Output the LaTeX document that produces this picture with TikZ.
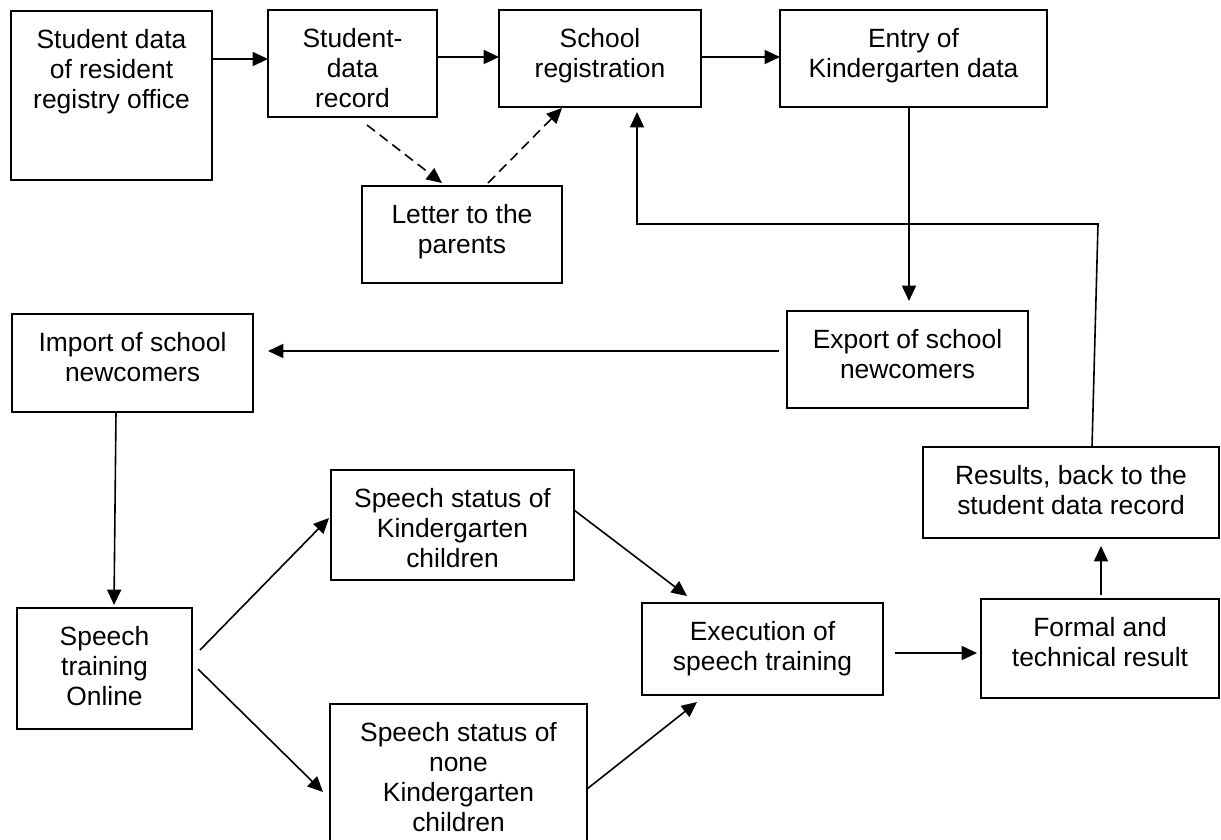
\documentclass[tikz,border=0pt]{standalone}
\usepackage{fontspec}
\setmainfont{Liberation Sans}
\usetikzlibrary{arrows.meta,calc}
\newlength\px
\setlength\px{0.75pt}
\newcommand\bxt[3]{\parbox[t][#2\px][t]{#1\px}{\centering\rule{0pt}{37\px}#3}}
\begin{document}
\begin{tikzpicture}[x=0.75pt,y=-0.75pt,
  box/.style={draw, line width=1.4pt, inner sep=0pt, outer sep=0pt, anchor=north west,
    font=\fontsize{19.8pt}{22.5pt}\selectfont},
  arr/.style={line width=1.2pt, -{Triangle[length=11.5pt,width=10.5pt]}},
  dsh/.style={arr, dash pattern=on 7.5pt off 4.5pt}]
\useasboundingbox (0,0) rectangle (1221,839);
\clip (0,0) rectangle (1221,839);
\fill[white] (0,0) rectangle (1221,839);
% boxes
\node[box] (reg) at (11,11) {\bxt{201}{169}{Student data\\of resident\\registry office}};
\node[box] (rec) at (268,10) {\bxt{169}{107}{Student-\\data\\record}};
\node[box] (sch) at (499,10) {\bxt{202}{97}{School\\registration}};
\node[box] (ent) at (780,10) {\bxt{267}{97}{Entry of\\Kindergarten data}};
\node[box] (let) at (362,186) {\bxt{200}{97}{Letter to the\\parents}};
\node[box] (imp) at (12,314) {\bxt{241}{98}{Import of school\\newcomers}};
\node[box] (exp) at (787,311) {\bxt{241}{97}{Export of school\\newcomers}};
\node[box] (res) at (923,447) {\bxt{296}{91}{Results, back to the\\student data record}};
\node[box] (spk) at (331,470) {\bxt{243}{110}{Speech status of\\Kindergarten\\children}};
\node[box] (trn) at (17,608) {\bxt{175}{121}{Speech\\training\\Online}};
\node[box] (exe) at (642,603) {\bxt{241}{92}{Execution of\\speech training}};
\node[box] (frm) at (981,599) {\bxt{238}{99}{Formal and\\technical result}};
\node[box] (non) at (330,704) {\bxt{257}{160}{Speech status of\\none\\Kindergarten\\children}};
% connectors
\draw[arr] (reg.east |- 0,59) -- (rec.west |- 0,59);
\draw[arr] (rec.east |- 0,57) -- (sch.west |- 0,57);
\draw[arr] (sch.east |- 0,57) -- (ent.west |- 0,57);
\draw[dsh] ($(rec.south west)+(99,8)$) -- ($(let.north west)+(80,-3)$);
\draw[dsh] ($(let.north west)+(126,-3)$) -- ($(sch.south west)+(63,1)$);
\coordinate (fb1) at (1098,224);
\coordinate (fb2) at (637,224);
\draw[arr] ($(res.north west)+(169,0)$) -- (fb1) -- (fb2) -- ($(sch.south west)+(138,5)$);
\draw[arr] ($(ent.south west)+(129,0)$) -- ($(exp.north west)+(122,-10)$);
\draw[arr] ($(exp.north west)+(-8,40)$) -- ($(imp.north east)+(15,37)$);
\draw[arr] ($(imp.south west)+(104,0)$) -- ($(trn.north west)+(97,-3)$);
\draw[arr] ($(trn.north east)+(8,42)$) -- ($(spk.north west)+(-2,48)$);
\draw[arr] ($(trn.north east)+(6,61)$) -- ($(non.north west)+(-7,88)$);
\draw[arr] ($(spk.north east)+(0,40)$) -- ($(exe.north west)+(45,-7)$);
\draw[arr] ($(non.north east)+(0,85)$) -- ($(exe.south west)+(55,7)$);
\draw[arr] ($(exe.north east)+(12,50)$) -- ($(frm.north west)+(-4,54)$);
\draw[arr] ($(frm.north west)+(120,-4)$) -- ($(res.south west)+(178,8)$);
\end{tikzpicture}
\end{document}
